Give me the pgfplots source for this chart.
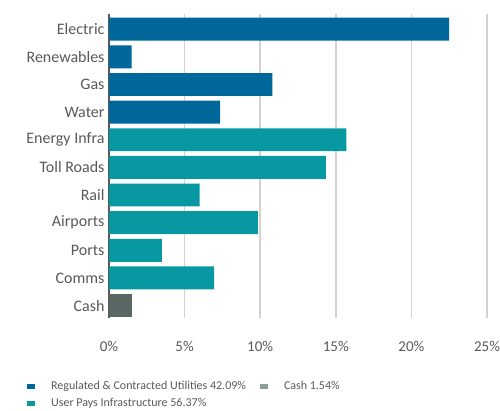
\documentclass[border=0pt]{standalone}
\usepackage{pgfplots}
\pgfplotsset{compat=1.18}
\usepackage{fontspec}
\setmainfont{Carlito}
\definecolor{cBlue}{HTML}{00679A}
\definecolor{cTeal}{HTML}{0798A1}
\definecolor{cCash}{HTML}{5A6663}
\definecolor{cCashL}{HTML}{8E9999}
\definecolor{cText}{HTML}{595959}
\definecolor{cGrid}{HTML}{D2D2D2}
\begin{document}
\begin{tikzpicture}[x=1pt,y=1pt]
\useasboundingbox (0,0) rectangle (500,410);
\begin{axis}[
  scale only axis,
  width=378pt, height=304pt,
  at={(109pt,92pt)}, anchor=south west,
  xbar, bar width=0.83, bar shift=0pt,
  xmin=0, xmax=25,
  ymin=-0.55, ymax=10.45,
  y dir=reverse,
  xtick={0,5,10,15,20,25},
  xticklabel={\pgfmathprintnumber{\tick}\%},
  ytick={0,1,2,3,4,5,6,7,8,9,10},
  yticklabels={Electric,Renewables,Gas,Water,Energy Infra,Toll Roads,Rail,Airports,Ports,Comms,Cash},
  major tick length=0pt,
  xmajorgrids,
  grid style={cGrid, line width=1.6pt},
  axis x line*=bottom,
  axis y line*=left,
  x axis line style={draw=none},
  y axis line style={cText, line width=1.8pt, -},
  ticklabel style={text=cText},
  yticklabel style={font=\fontsize{16}{18}\selectfont, xshift=-1pt},
  xticklabel style={font=\fontsize{15}{17}\selectfont, yshift=-20pt},
  /pgf/number format/assume math mode=true,
  legend columns=2,
  legend cell align=left,
  legend style={draw=none, fill=none, at={(axis description cs:-0.225,-0.195)}, anchor=north west,
    font=\fontsize{12}{14}\selectfont, text=cText,
    /tikz/every odd column/.append style={column sep=14pt},
    /tikz/every even column/.append style={column sep=12pt},
    row sep=3pt},
]
\addplot[draw=none, fill=cBlue, forget plot] coordinates {(22.5,0) (1.5,1) (10.8,2) (7.35,3)};
\addplot[draw=none, fill=cTeal, forget plot] coordinates {(15.7,4) (14.35,5) (6.0,6) (9.85,7) (3.5,8) (6.95,9)};
\addplot[draw=none, fill=cCash, forget plot] coordinates {(1.54,10)};
\addlegendimage{legend image code/.code={\fill[cBlue,draw=none] (0pt,-2.5pt) rectangle (8pt,2.5pt);}}
\addlegendentry{Regulated \& Contracted Utilities 42.09\%}
\addlegendimage{legend image code/.code={\fill[cCashL,draw=none] (0pt,-2.5pt) rectangle (8pt,2.5pt);}}
\addlegendentry{Cash 1.54\%}
\addlegendimage{legend image code/.code={\fill[cTeal,draw=none] (0pt,-2.5pt) rectangle (8pt,2.5pt);}}
\addlegendentry{User Pays Infrastructure 56.37\%}
\end{axis}
\end{tikzpicture}
\end{document}
